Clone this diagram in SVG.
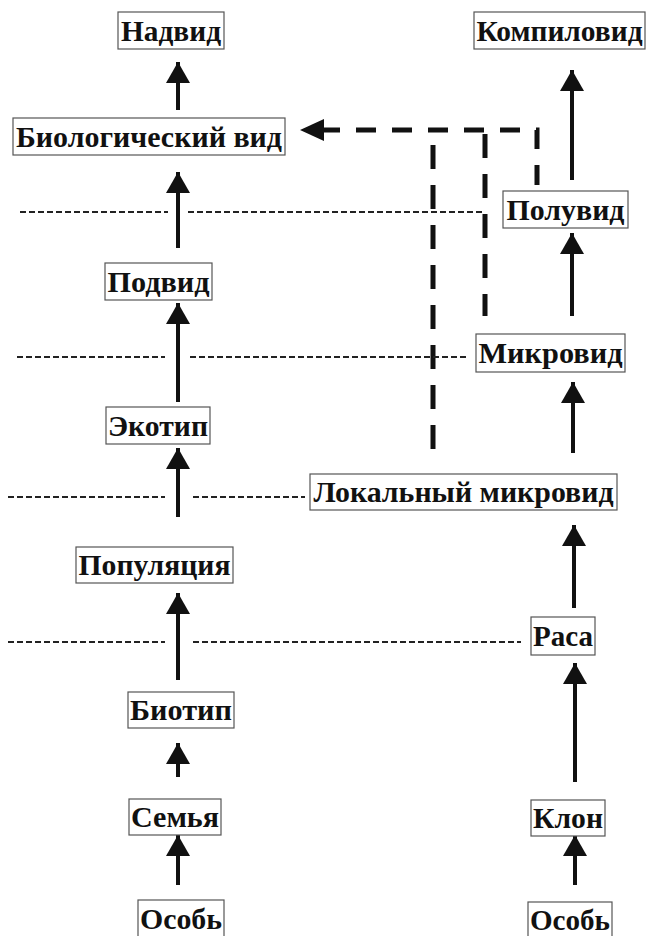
<svg xmlns="http://www.w3.org/2000/svg" width="652" height="936" viewBox="0 0 652 936">
<style>
.box{fill:#fff;stroke:#555;stroke-width:1.2}
.lbl{font-family:"Liberation Serif","Times New Roman",serif;font-weight:bold;font-size:29px;fill:#111;text-anchor:middle}
.arr{stroke:#111;stroke-width:4;fill:none;marker-end:url(#ah)}
.thick{stroke:#111;stroke-width:5;fill:none;stroke-dasharray:20 16}
.thin{stroke:#222;stroke-width:2;fill:none;stroke-dasharray:6 3}
</style>
<defs>
<marker id="ah" markerUnits="userSpaceOnUse" markerWidth="24" markerHeight="24" refX="21" refY="12" orient="auto">
<path d="M0,0 L21,12 L0,24 Z" fill="#111"/>
</marker>
</defs>
<rect width="652" height="936" fill="#fff"/>
<g id="connectors">
<line class="arr" x1="178" y1="110" x2="178" y2="62"/>
<line class="arr" x1="178" y1="248" x2="178" y2="172"/>
<line class="arr" x1="178" y1="402" x2="178" y2="303"/>
<line class="arr" x1="178" y1="517" x2="178" y2="448"/>
<line class="arr" x1="178" y1="680" x2="178" y2="593"/>
<line class="arr" x1="178" y1="777" x2="178" y2="743"/>
<line class="arr" x1="178" y1="885" x2="178" y2="835"/>
<line class="arr" x1="572" y1="180" x2="572" y2="70"/>
<line class="arr" x1="572" y1="316" x2="572" y2="233"/>
<line class="arr" x1="573" y1="453" x2="573" y2="382"/>
<line class="arr" x1="574" y1="608" x2="574" y2="525"/>
<line class="arr" x1="575" y1="782" x2="575" y2="663"/>
<line class="arr" x1="575" y1="885" x2="575" y2="835"/>
<path class="thick" d="M537,185 V130 H320"/>
<path d="M300,130 L324,119 L324,141 Z" fill="#111"/>
<line class="thick" x1="485" y1="130" x2="485" y2="316" style="stroke-dasharray:24 16;stroke-dashoffset:-4"/>
<line class="thick" x1="433" y1="145" x2="433" y2="453" style="stroke-dasharray:24 16"/>
<line class="thin" x1="20" y1="212" x2="168" y2="212"/>
<line class="thin" x1="188" y1="212" x2="485" y2="212"/>
<line class="thin" x1="17" y1="357" x2="165" y2="357"/>
<line class="thin" x1="190" y1="357" x2="468" y2="357"/>
<line class="thin" x1="8" y1="497" x2="165" y2="497"/>
<line class="thin" x1="193" y1="497" x2="305" y2="497"/>
<line class="thin" x1="8" y1="642" x2="165" y2="642"/>
<line class="thin" x1="193" y1="642" x2="521" y2="642"/>
</g>
<g id="n-nadvid"><rect class="box" x="118" y="12" width="106" height="37"/><text class="lbl" x="171" y="41" textLength="100" lengthAdjust="spacingAndGlyphs">Надвид</text></g>
<g id="n-biovid"><rect class="box" x="13" y="118" width="272" height="37"/><text class="lbl" x="149" y="147" textLength="266" lengthAdjust="spacingAndGlyphs">Биологический вид</text></g>
<g id="n-podvid"><rect class="box" x="105" y="263" width="107" height="37"/><text class="lbl" x="158.5" y="292" textLength="102" lengthAdjust="spacingAndGlyphs">Подвид</text></g>
<g id="n-ekotip"><rect class="box" x="106" y="407" width="104" height="37"/><text class="lbl" x="158" y="436" textLength="100" lengthAdjust="spacingAndGlyphs">Экотип</text></g>
<g id="n-populyaciya"><rect class="box" x="76" y="547" width="157" height="36"/><text class="lbl" x="154.5" y="575" textLength="152" lengthAdjust="spacingAndGlyphs">Популяция</text></g>
<g id="n-biotip"><rect class="box" x="128" y="692" width="106" height="36"/><text class="lbl" x="181" y="720" textLength="102" lengthAdjust="spacingAndGlyphs">Биотип</text></g>
<g id="n-semya"><rect class="box" x="129" y="799" width="92" height="36"/><text class="lbl" x="175" y="827" textLength="88" lengthAdjust="spacingAndGlyphs">Семья</text></g>
<g id="n-osob-left"><rect class="box" x="138" y="900" width="86" height="40"/><text class="lbl" x="181" y="929" textLength="82" lengthAdjust="spacingAndGlyphs">Особь</text></g>
<g id="n-kompilovid"><rect class="box" x="474" y="12" width="171" height="37"/><text class="lbl" x="559.5" y="41" textLength="166" lengthAdjust="spacingAndGlyphs">Компиловид</text></g>
<g id="n-poluvid"><rect class="box" x="503" y="191" width="125" height="37"/><text class="lbl" x="565.5" y="220" textLength="118" lengthAdjust="spacingAndGlyphs">Полувид</text></g>
<g id="n-mikrovid"><rect class="box" x="476" y="334" width="149" height="38"/><text class="lbl" x="550.5" y="363" textLength="144" lengthAdjust="spacingAndGlyphs">Микровид</text></g>
<g id="n-lokalnyi"><rect class="box" x="310" y="474" width="307" height="36"/><text class="lbl" x="463.5" y="502" textLength="300" lengthAdjust="spacingAndGlyphs">Локальный микровид</text></g>
<g id="n-rasa"><rect class="box" x="531" y="617" width="64" height="38"/><text class="lbl" x="563" y="646" textLength="60" lengthAdjust="spacingAndGlyphs">Раса</text></g>
<g id="n-klon"><rect class="box" x="531" y="800" width="74" height="36"/><text class="lbl" x="568" y="828" textLength="70" lengthAdjust="spacingAndGlyphs">Клон</text></g>
<g id="n-osob-right"><rect class="box" x="528" y="902" width="84" height="38"/><text class="lbl" x="570" y="930" textLength="80" lengthAdjust="spacingAndGlyphs">Особь</text></g>
</svg>
